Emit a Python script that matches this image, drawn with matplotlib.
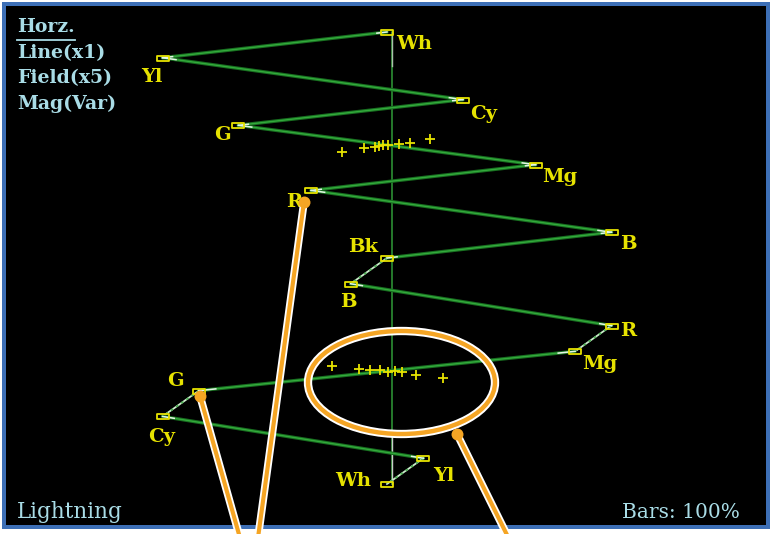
import numpy as np
import matplotlib
matplotlib.use("Agg")
import matplotlib.pyplot as plt
from matplotlib.path import Path
from matplotlib.patches import Rectangle, Ellipse

# 100% colour bars: luma and colour-difference values of each bar
bar_names = ["Wh", "Yl", "Cy", "G", "Mg", "R", "B", "Bk"]
luma = [1.000, 0.886, 0.701, 0.587, 0.413, 0.299, 0.114, 0.000]
cb = [0.000, -0.500, 0.169, -0.331, 0.331, -0.169, 0.500, 0.000]
cr = [0.000, 0.081, -0.500, -0.419, 0.419, 0.500, -0.081, 0.000]

# extra test points around mid grey
upper_cross_cb = [-0.100, -0.051, -0.027, -0.018, -0.009, 0.002, 0.027, 0.051, 0.096]
upper_cross_luma = [0.469, 0.487, 0.491, 0.496, 0.500, 0.500, 0.504, 0.509, 0.527]
lower_cross_cr = [-0.122, -0.062, -0.038, -0.016, 0.002, 0.018, 0.033, 0.065, 0.125]
lower_cross_luma = [0.478, 0.491, 0.496, 0.496, 0.504, 0.500, 0.504, 0.518, 0.531]

header_lines = ["Horz.", "Line(x1)", "Field(x5)", "Mag(Var)"]
mode_text = "Lightning"
bars_text = "Bars: 100%"

# label offsets in pixels (right, down) from each target
upper_offsets = {"Wh": (27, 12), "Yl": (-11, 19), "Cy": (21, 14), "G": (-16, 10),
                 "Mg": (24, 12), "R": (-17, 12), "B": (17, 12), "Bk": (-24, -11)}
lower_offsets = {"B": (-2, 18), "R": (17, 5), "Mg": (25, 13), "G": (-23, -10),
                 "Cy": (-1, 21), "Yl": (20, 18), "Wh": (-34, -3)}

W, H = 770, 534
YELLOW = "#e6e200"
CYAN = "#a9dce6"
GREEN_DARK = "#186e20"
GREEN = "#33aa3c"
ORANGE = "#f5a524"
BLUE = "#3d6fb6"
serif = ["DejaVu Serif"]

fig = plt.figure(figsize=(W / 100, H / 100), dpi=100, facecolor="white")

# screen background and bezel
bg = fig.add_axes([0, 0, 1, 1], zorder=0)
bg.set_xlim(0, W)
bg.set_ylim(H, 0)
bg.axis("off")
bg.add_patch(Rectangle((2, 2), 768, 527, facecolor=BLUE, edgecolor="none"))
bg.add_patch(Rectangle((6, 6), 760, 519, facecolor="black", edgecolor="none"))

# lightning display axes: x = colour difference, y = luma (inverted below centre)
ax = fig.add_axes([0, 0, 1, 1], zorder=1)
ax.patch.set_alpha(0)
ax.axis("off")
x0, sx = 387.0, 449.0
y0, sy = 258.0, 226.0
ax.set_xlim(-x0 / sx, (W - x0) / sx)
ax.set_ylim(-(H - y0) / sy, y0 / sy)

# vertical graticule line
vx = 5 / sx
ax.plot([vx, vx], [1.0, -1.0], color="#2f9a38", lw=1.1, zorder=1)
ax.plot([vx, vx], [1.0, 0.85], color="#a9c2a9", lw=1.0, zorder=1.5)
ax.plot([vx, vx], [-0.79, -1.0], color="#c8d0c8", lw=1.0, zorder=1.5)


def green_segment(p, q):
    xs, ys = [p[0], q[0]], [p[1], q[1]]
    ax.plot(xs, ys, color=GREEN_DARK, lw=2.5, solid_capstyle="round", zorder=2)
    ax.plot(xs, ys, color=GREEN, lw=1.0, zorder=2.1)
    # bright ends where the trace settles on each bar
    p, q = np.array(p), np.array(q)
    for a, b in ((p, q), (q, p)):
        e = a + 0.045 * (b - a)
        ax.plot([a[0], e[0]], [a[1], e[1]], color="#e8f5e8", lw=1.1, zorder=2.2)


def white_segment(p, q):
    xs, ys = [p[0], q[0]], [p[1], q[1]]
    ax.plot(xs, ys, color="#cdeccd", lw=1.3, zorder=2)
    ax.plot(xs, ys, color="#4fae55", lw=1.3, ls=(0, (1.5, 2.0)), zorder=2.1)


upper = list(zip(cb, luma))
for i in range(len(upper) - 1):
    green_segment(upper[i], upper[i + 1])

lower = [(c, -y) for c, y in zip(cr, luma)][::-1]
for i in range(len(lower) - 1):
    if i % 2 == 0:
        white_segment(lower[i], lower[i + 1])
    else:
        green_segment(lower[i], lower[i + 1])

# target boxes
box = Path([(-1, -0.45), (1, -0.45), (1, 0.45), (-1, 0.45), (-1, -0.45)],
           [Path.MOVETO, Path.LINETO, Path.LINETO, Path.LINETO, Path.CLOSEPOLY])
ax.plot(cb, luma, ls="none", marker=box, ms=8.0, mfc="none", mec=YELLOW, mew=1.3, zorder=3)
ax.plot(cr[:-1], [-v for v in luma[:-1]], ls="none", marker=box, ms=8.0, mfc="none",
        mec=YELLOW, mew=1.3, zorder=3)

# mid-grey crosses
ax.plot(upper_cross_cb, upper_cross_luma, ls="none", marker="+", ms=6.5, mew=1.3,
        color=YELLOW, zorder=3)
ax.plot(lower_cross_cr, [-v for v in lower_cross_luma], ls="none", marker="+", ms=6.5,
        mew=1.3, color=YELLOW, zorder=3)

# bar labels
lab_kw = dict(textcoords="offset pixels", ha="center", va="center", color=YELLOW,
              fontsize=14, fontweight="bold", family=serif, zorder=4)
for name, c, y in zip(bar_names, cb, luma):
    dx, dy = upper_offsets[name]
    ax.annotate(name, xy=(c, y), xytext=(dx, -dy), **lab_kw)
for name, c, y in zip(bar_names, cr, luma):
    if name in lower_offsets:
        dx, dy = lower_offsets[name]
        ax.annotate(name, xy=(c, -y), xytext=(dx, -dy), **lab_kw)

# overlay: screen text and callouts
top = fig.add_axes([0, 0, 1, 1], zorder=2)
top.patch.set_alpha(0)
top.set_xlim(0, W)
top.set_ylim(H, 0)
top.axis("off")

for i, t in enumerate(header_lines):
    top.text(17, 27 + 25.7 * i, t, color=CYAN, fontsize=13.6, fontweight="bold",
             family=serif, ha="left", va="center")
top.plot([17, 75], [39.5, 39.5], color=CYAN, lw=1.3)
top.text(17, 512, mode_text, color=CYAN, fontsize=15.5, family=serif,
         ha="left", va="center")
top.text(740, 512, bars_text, color=CYAN, fontsize=14.5, family=serif,
         ha="right", va="center")

# callout ring and leader lines
for lw, col in ((6.0, "white"), (3.2, ORANGE)):
    top.add_patch(Ellipse((401.5, 382.5), 187, 103, fill=False, lw=lw, edgecolor=col))
leaders = [((304, 202), (257, 545)), ((200, 396), (242, 545)), ((457, 434), (512, 545))]
for (xa, ya), (xb, yb) in leaders:
    top.plot([xa, xb], [ya, yb], color="white", lw=5.6, solid_capstyle="butt")
    top.plot([xa, xb], [ya, yb], color=ORANGE, lw=3.0, solid_capstyle="butt")
    top.plot([xa], [ya], "o", color=ORANGE, ms=8.6, mec="none")

fig.savefig("out.png", dpi=100, facecolor="white")
